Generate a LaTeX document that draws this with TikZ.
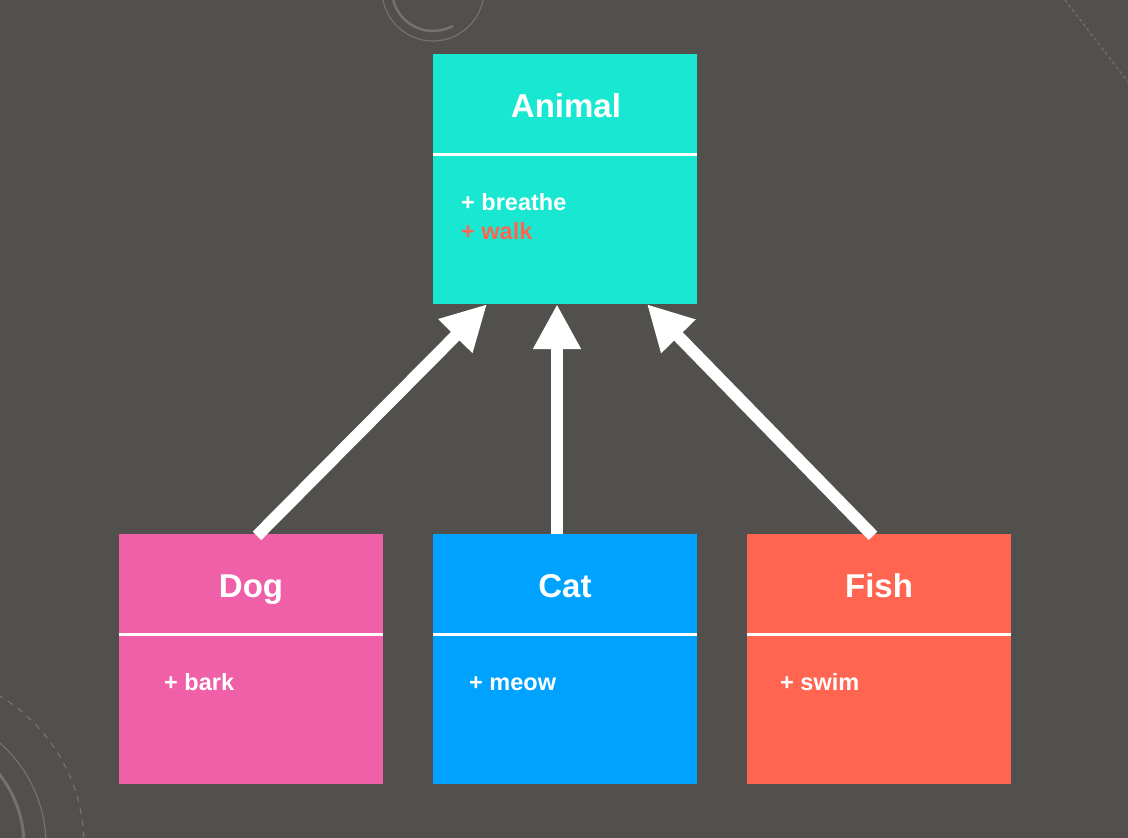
\documentclass[tikz,border=0pt]{standalone}
\usepackage{fontspec}
\setmainfont{Liberation Sans}
\usetikzlibrary{arrows.meta}
\definecolor{bg}{HTML}{52504D}
\definecolor{deco}{HTML}{74726F}
\definecolor{teal}{HTML}{18E8D1}
\definecolor{pinkc}{HTML}{EF60A8}
\definecolor{bluec}{HTML}{00A2FF}
\definecolor{coral}{HTML}{FF6550}
\tikzset{
  classbox/.style={minimum width=264pt, minimum height=250pt, inner sep=0pt, draw=none},
  divider/.style={white, line width=3pt},
  title/.style={font=\bfseries\fontsize{33}{36}\selectfont, text=white, inner sep=0pt, anchor=base},
  method/.style={font=\bfseries\fontsize{23.5}{27}\selectfont, text=white, inner sep=0pt, anchor=base west},
  inherit/.style={white, line width=12pt, -{Triangle[length=45pt,width=45pt]}},
  decoline/.style={deco, line width=1.2pt},
}
\begin{document}
\begin{tikzpicture}[x=1pt,y=-1pt]
\useasboundingbox (0,0) rectangle (1128,838);
\fill[bg] (0,0) rectangle (1128,838);
% background decorations
\begin{scope}
\clip (0,0) rectangle (1128,838);
\draw[decoline] (433,-10) circle[radius=51];
\draw[deco, line width=2.5pt] (433,-10) ++(166:41) arc[start angle=166, end angle=61, radius=41];
\draw[decoline, dashed] (1065,0) -- (1128,82);
\draw[decoline, dash pattern=on 6pt off 6pt] (-90,845) circle[radius=174];
\draw[decoline] (-90,845) circle[radius=136];
\draw[deco, line width=3pt] (-90,845) circle[radius=114];
\end{scope}
% boxes
\node[classbox, fill=teal] (animal) at (565,179) {};
\node[classbox, fill=pinkc] (dog) at (251,659) {};
\node[classbox, fill=bluec] (cat) at (565,659) {};
\node[classbox, fill=coral] (fish) at (879,659) {};
\foreach \b in {animal,dog,cat,fish}{
  \draw[divider] ([yshift=-101pt]\b.north west) -- ([yshift=-101pt]\b.north east);
}
% texts
\node[title] (animalt) at (566,117) {Animal};
\node[method] (m1) at (461,210) {+ breathe};
\node[method, text=coral] (m2) at (461,239) {+ walk};
\node[title] (dogt) at (251,597) {Dog};
\node[method] (m3) at (164,690) {+ bark};
\node[title] (catt) at (565,597) {Cat};
\node[method] (m4) at (469,690) {+ meow};
\node[title] (fisht) at (879,597) {Fish};
\node[method] (m5) at (780,690) {+ swim};
% connectors
\draw[inherit] ([xshift=6pt,yshift=-2pt]dog.north) -- ([xshift=-78pt]animal.south);
\draw[inherit] ([xshift=-8pt]cat.north) -- ([xshift=-8pt]animal.south);
\draw[inherit] ([xshift=-6pt,yshift=-2pt]fish.north) -- ([xshift=82pt]animal.south);
\end{tikzpicture}
\end{document}
